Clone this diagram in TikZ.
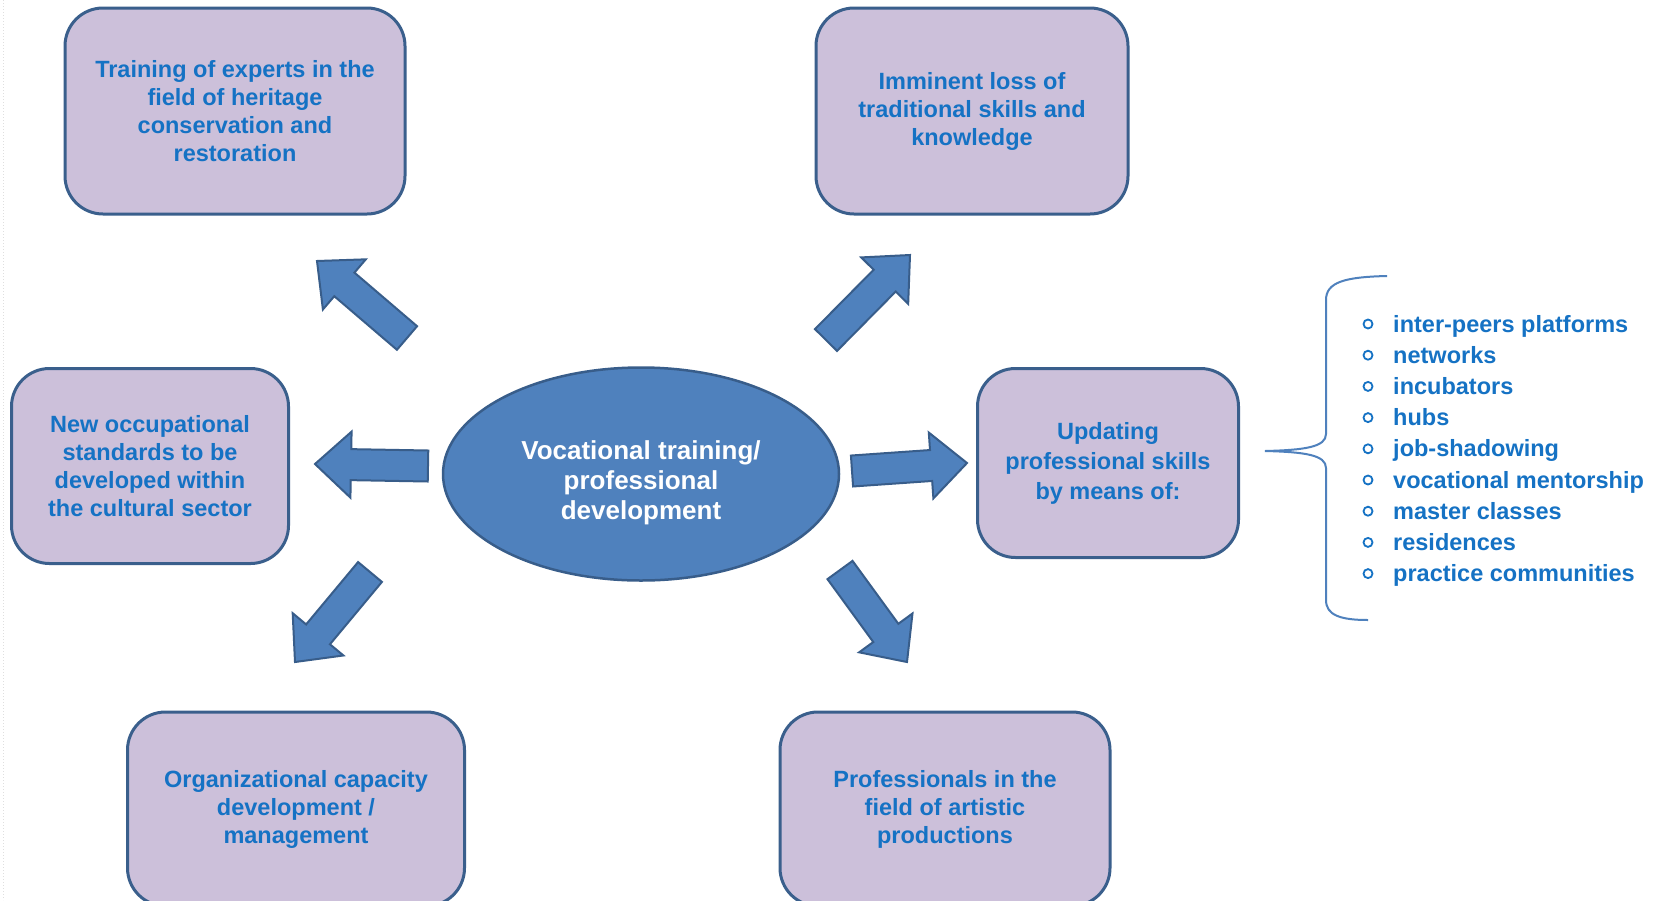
\documentclass[tikz,border=0pt]{standalone}
\usepackage{fontspec}
\setmainfont{Liberation Sans}
\usetikzlibrary{shapes.geometric,calc}
\definecolor{boxfill}{HTML}{CCC0DA}
\definecolor{boxdraw}{HTML}{3A5F8C}
\definecolor{txtblue}{HTML}{1572C4}
\definecolor{accent}{HTML}{4F81BD}
\definecolor{accentdark}{HTML}{385D8A}
\newcommand{\boxfont}{\fontsize{23.5}{28}\selectfont\bfseries}
\newcommand{\ellfont}{\fontsize{26}{30}\selectfont\bfseries}
\newcommand{\blockarrow}[2]{%
  \coordinate (bah) at ($(#2)!36pt!(#1)$);
  \draw[blockarr] ($(#1)!15.5pt!90:(#2)$) -- ($(bah)!15.5pt!90:(#2)$)
    -- ($(bah)!33pt!90:(#2)$) -- (#2) -- ($(bah)!33pt!-90:(#2)$)
    -- ($(bah)!15.5pt!-90:(#2)$) -- ($(#1)!15.5pt!-90:(#2)$) -- cycle;}
\begin{document}
\begin{tikzpicture}[x=1pt,y=-1pt,
  box/.style={draw=boxdraw, line width=3pt, fill=boxfill, rounded corners=38pt,
    align=center, text=txtblue, font=\boxfont, inner sep=4pt},
  blockarr/.style={fill=accent, draw=accentdark, line width=2pt, line join=miter},
  listitem/.style={anchor=base west, text=txtblue, font=\boxfont, inner sep=0pt},
  bullet/.style={draw=txtblue, line width=1.8pt},
  brace/.style={draw=accent, line width=2pt}]
\useasboundingbox (0,0) rectangle (1661,900);
\clip (0,0) rectangle (1661,900);
\fill[white] (0,0) rectangle (1661,900);
\draw[gray!25, dotted, line width=1pt] (3,0) -- (3,900);

% boxes
\node[box, minimum width=340pt, minimum height=206pt] (b1) at (235,111)
  {Training of experts in the\\field of heritage\\conservation and\\restoration};
\node[box, minimum width=312pt, minimum height=206pt] (b2) at (972,111)
  {Imminent loss of\\traditional skills and\\knowledge};
\node[box, minimum width=277pt, minimum height=195pt] (b3) at (150,466)
  {New occupational\\standards to be\\developed within\\the cultural sector};
\node[box, minimum width=261pt, minimum height=189pt, font={\fontsize{23.5}{30}\selectfont\bfseries}] (b4) at (1108,463)
  {Updating\\professional skills\\by means of:};
\node[box, minimum width=337pt, minimum height=194pt] (b5) at (296,809)
  {Organizational capacity\\development /\\management};
\node[box, minimum width=330pt, minimum height=194pt] (b6) at (945,809)
  {Professionals in the\\field of artistic\\productions};

% centre ellipse
\node[ellipse, fill=accent, draw=accentdark, line width=2.5pt,
  minimum width=396pt, minimum height=213pt] (c) at (641,474) {};
\node[align=center, text=white, font=\ellfont] (ct) at ($(c.center)+(0,9)$)
  {Vocational training/\\professional\\development};

% block arrows
\coordinate (a1t) at (407,338); \coordinate (a1h) at (317,261);
\coordinate (a2t) at (826,340); \coordinate (a2h) at (910,255);
\coordinate (a3t) at (428,466); \coordinate (a3h) at (315,464);
\coordinate (a4t) at (852,471); \coordinate (a4h) at (967,463);
\coordinate (a5t) at (370,572); \coordinate (a5h) at (295,662);
\coordinate (a6t) at (840,570); \coordinate (a6h) at (907,662);
\blockarrow{a1t}{a1h}
\blockarrow{a2t}{a2h}
\blockarrow{a3t}{a3h}
\blockarrow{a4t}{a4h}
\blockarrow{a5t}{a5h}
\blockarrow{a6t}{a6h}

% brace
\coordinate (brtip) at (1265,451);
\draw[brace] (1387,276) .. controls (1345,277) and (1326,282) .. (1326,300)
  -- (1326,434) .. controls (1326,447) and (1305,450) .. (brtip)
  .. controls (1305,452) and (1326,455) .. (1326,468)
  -- (1326,600) .. controls (1326,615) and (1340,620) .. (1368,620);

% list
\foreach \t [count=\i from 0] in {inter-peers platforms, networks, incubators, hubs,
  job-shadowing, vocational mentorship, master classes, residences, practice communities}{
  \draw[bullet] (1368,{324+31.2*\i}) circle (4.5pt);
  \node[listitem] (l\i) at (1393,{332+31.2*\i}) {\t};
}
\end{tikzpicture}
\end{document}
